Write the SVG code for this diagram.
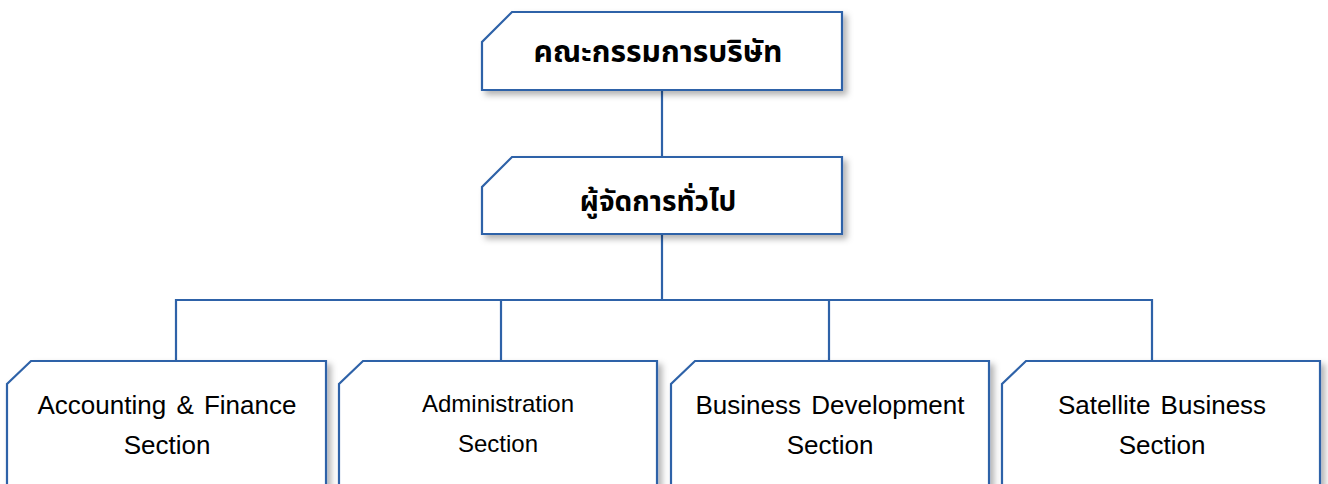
<svg xmlns="http://www.w3.org/2000/svg" width="1328" height="484" viewBox="0 0 1328 484">
  <defs>
    <filter id="sh" x="-10%" y="-10%" width="130%" height="140%">
      <feDropShadow dx="4" dy="4" stdDeviation="3" flood-color="#000" flood-opacity="0.3"/>
    </filter>
    <style>
      .box { fill: #ffffff; stroke: #2E62A8; stroke-width: 2.2; filter: url(#sh); }
      .conn { fill: none; stroke: #2E62A8; stroke-width: 2.2; }
      .th { font-family: "Noto Sans Thai", "Noto Sans Thai UI", "Loma", "Garuda", "Tlwg Typo", "Noto Sans", sans-serif; font-weight: bold; font-size: 28px; fill: #000; text-anchor: middle; }
      .th1 { font-size: 30px; }
      .en { font-family: "Liberation Sans", Arial, sans-serif; font-size: 26px; fill: #000; text-anchor: middle; word-spacing: 3px; }
      .en2 { font-size: 24px; }
    </style>
  </defs>
  <g id="connectors">
    <path class="conn" d="M662 90 V157"/>
    <path class="conn" d="M662 234 V300"/>
    <path class="conn" d="M176 361 V300 H1152 V361"/>
    <path class="conn" d="M501 300 V361"/>
    <path class="conn" d="M829 300 V361"/>
  </g>
  <g id="board">
    <path class="box" d="M512 12 H842 V90 H482 V42 Z"/>
    <text class="th th1" x="658" y="62">คณะกรรมการบริษัท</text>
  </g>
  <g id="general-manager">
    <path class="box" d="M512 157 H842 V234 H482 V187 Z"/>
    <text class="th" x="658" y="211">ผู้จัดการทั่วไป</text>
  </g>
  <g id="accounting">
    <path class="box" d="M31 361 H326 V500 H7 V384 Z"/>
    <text class="en" x="167" y="414">Accounting &amp; Finance</text>
    <text class="en" x="167" y="454">Section</text>
  </g>
  <g id="administration">
    <path class="box" d="M363 361 H657 V500 H339 V384 Z"/>
    <text class="en en2" x="498" y="412">Administration</text>
    <text class="en en2" x="498" y="452">Section</text>
  </g>
  <g id="business-development">
    <path class="box" d="M695 361 H989 V500 H671 V384 Z"/>
    <text class="en" x="830" y="414">Business Development</text>
    <text class="en" x="830" y="454">Section</text>
  </g>
  <g id="satellite-business">
    <path class="box" d="M1026 361 H1320 V500 H1002 V384 Z"/>
    <text class="en" x="1162" y="414">Satellite Business</text>
    <text class="en" x="1162" y="454">Section</text>
  </g>
</svg>
